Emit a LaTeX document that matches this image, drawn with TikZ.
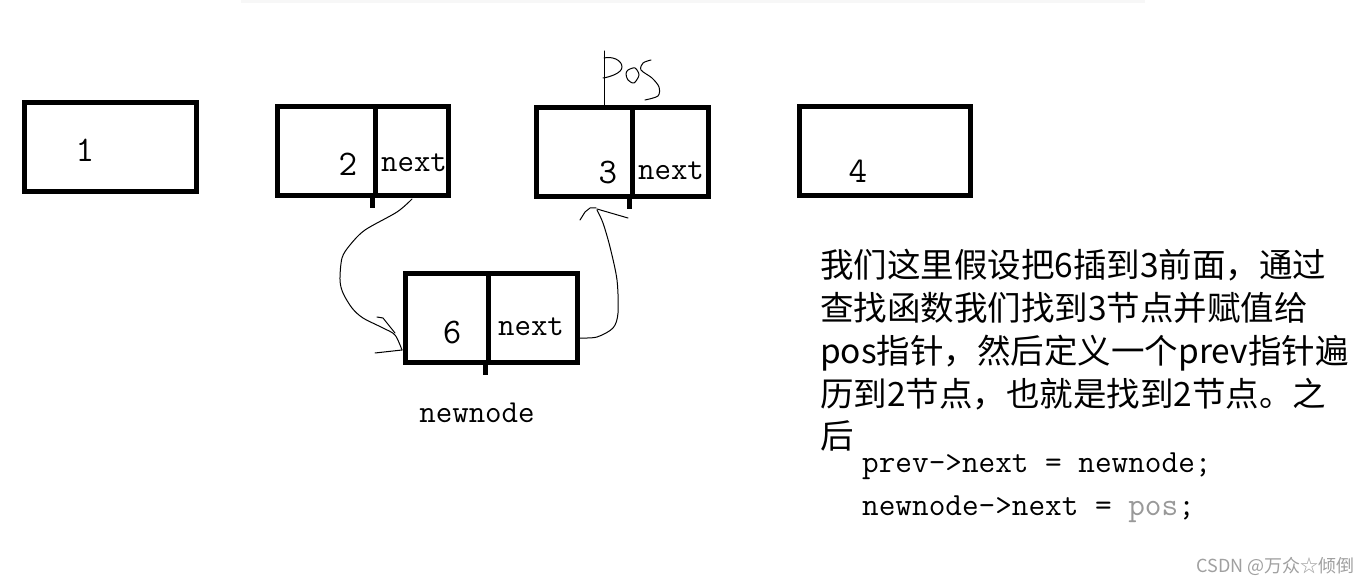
\documentclass[tikz,border=0pt]{standalone}
\usepackage{fontspec}
\newfontfamily\cjk{Noto Sans CJK SC}
\newfontfamily\codefont{Latin Modern Mono}
\definecolor{wm}{HTML}{A0A0A0}
\definecolor{posgray}{HTML}{999999}
\begin{document}
\begin{tikzpicture}[x=1pt,y=-1pt,
  cell/.style={draw, line width=5pt, inner sep=0pt, minimum height=89pt},
  lbl/.style={inner sep=0pt, anchor=base, font=\codefont\fontsize{32}{32}\selectfont},
  num/.style={inner sep=0pt, anchor=base, font=\codefont\fontsize{36}{36}\selectfont},
  stem/.style={line width=5pt},
  hand/.style={line width=1pt, line cap=round, line join=round},
  cn/.style={inner sep=0pt, anchor=base west, font=\cjk\fontsize{33.5}{33.5}\selectfont},
  code/.style={inner sep=0pt, anchor=base west, font=\codefont\fontsize{32.3}{32.3}\selectfont}]
\useasboundingbox (0,0) rectangle (1370,585);
\fill[white] (0,0) rectangle (1370,585);
\draw[line width=3pt, black!3] (241,2) -- (1145,2);

% node 1
\node[cell, minimum width=172pt] (b1) at (110.5,147) {};
\node[num] (t1) at (85,162) {1};
% node 2
\node[cell, minimum width=97.5pt] (b2d) at (326.25,151) {};
\node[cell, minimum width=73.5pt] (b2n) at (411.75,151) {};
\draw[stem] (b2n.south west) -- ++(0,10);
\node[num] (t2) at (348,176) {2};
\node[lbl] (n2) at (414,172) {next};
% node 3
\node[cell, minimum width=95.5pt] (b3d) at (584.25,152.25) {};
\node[cell, minimum width=76.5pt] (b3n) at (670.25,152.25) {};
\draw[stem] (b3n.south west) -- ++(0,10);
\node[num] (t3) at (608,184) {3};
\node[lbl] (n3) at (671,180) {next};
% node 4
\node[cell, minimum width=171pt] (b4) at (885,151) {};
\node[num] (t4) at (858,183) {4};
% node 6
\node[cell, minimum width=82.5pt] (b6d) at (446.75,318) {};
\node[cell, minimum width=89.5pt] (b6n) at (532.75,318) {};
\draw[stem] (b6n.south west) -- ++(0,10);
\node[num] (t6) at (452,343) {6};
\node[lbl] (n6) at (531,335) {next};
\node[lbl] (nn) at (477,422) {newnode};

% pos handwriting
\coordinate (postop) at (604,51);
\draw[hand] (b3d.north west -| postop) -- (postop);
\draw[hand] (604,58) .. controls (612,56) and (622,60) .. (622,67) .. controls (622,73) and (610,77) .. (603,78);
\draw[hand] plot[smooth cycle] coordinates {(628,70) (635,68) (639,75) (634,83) (628,80) (626,74)};
\draw[hand] plot[smooth] coordinates {(651,60) (643,63) (641,70) (652,78) (659,87) (658,96) (645,100)};

% arrow from 2.next to newnode
\draw[hand] plot[smooth] coordinates {(412,199) (397,212) (365,230) (350,245) (342,258) (340,280) (343,293) (352,308) (363,318) (383,328) (395,335) (402,350)};
\draw[hand] (377,317) -- (383,318) -- (395,333);
\draw[hand] (375,353) -- (402,350);

% arrow from newnode.next to 3
\draw[hand] plot[smooth] coordinates {(b6n.east |- 0,338) (597,337) (613,328) (618,313) (617,280) (610,247) (603,223) (597,210)};
\draw[hand] (580,220) -- (585,212) -- (590,208) -- (596,208);
\draw[hand] (597,209) -- (628,218);

% explanation text
\node[cn] (l1) at (820,278) {我们这里假设把6插到3前面，通过};
\node[cn] (l2) at (820,320) {查找函数我们找到3节点并赋值给};
\node[cn] (l3) at (820,363) {pos指针，然后定义一个prev指针遍};
\node[cn] (l4) at (820,406) {历到2节点，也就是找到2节点。之};
\node[cn] (l5) at (820,448) {后};
\node[code] (c1) at (862,472) {prev->next = newnode;};
\node[code] (c2) at (862,515) {newnode->next = \textcolor{posgray}{pos};};

\node[inner sep=0pt, anchor=east, text=wm, font=\cjk\fontsize{18}{18}\selectfont] (wmk) at (1355,566) {CSDN @万众☆倾倒};
\end{tikzpicture}
\end{document}
